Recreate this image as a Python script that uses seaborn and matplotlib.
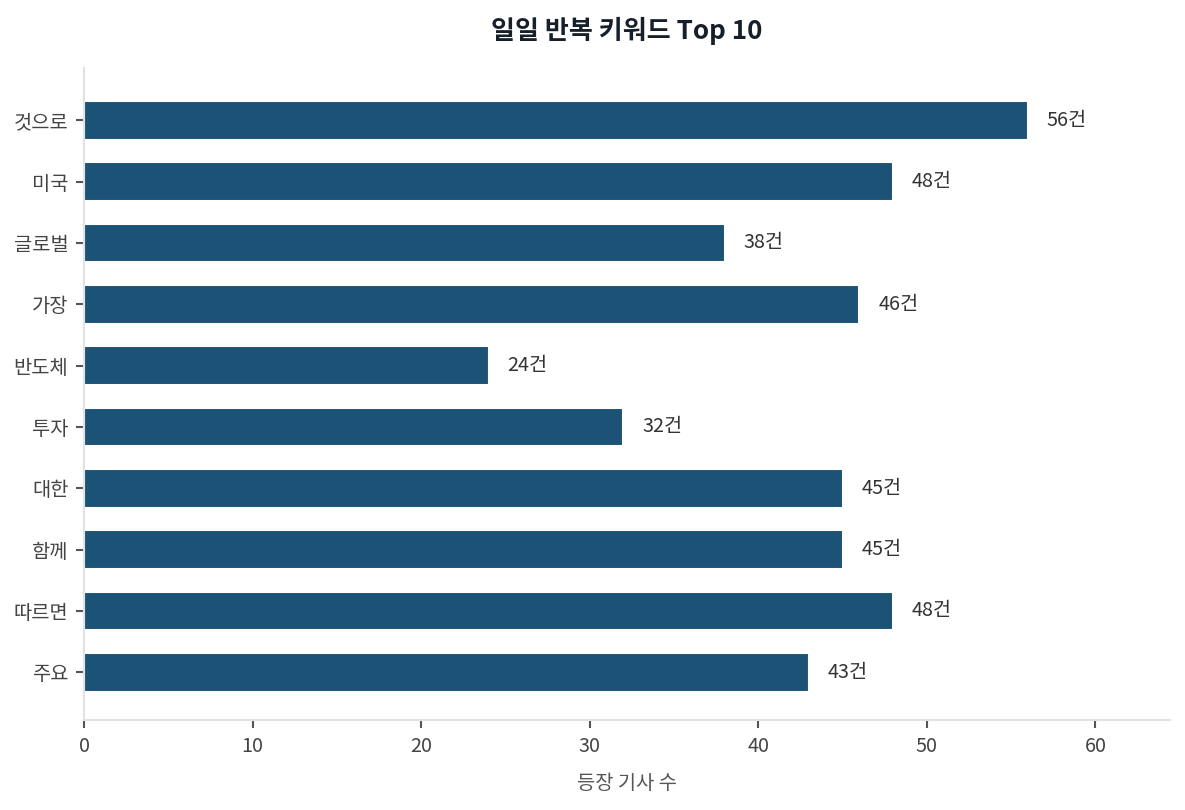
import pandas as pd
import matplotlib
matplotlib.use("Agg")
import matplotlib.pyplot as plt
import seaborn as sns

# Data
keywords = ["것으로", "미국", "글로벌", "가장", "반도체", "투자", "대한", "함께", "따르면", "주요"]
counts = [56, 48, 38, 46, 24, 32, 45, 45, 48, 43]

df = pd.DataFrame({"keyword": keywords, "count": counts})

sns.set_theme(style="white")
plt.rcParams["font.family"] = ["Noto Sans CJK KR", "DejaVu Sans"]

fig = plt.figure(figsize=(7.9, 5.4), dpi=150)
ax = fig.add_axes([0.0709, 0.111, 0.9161, 0.805])

sns.barplot(data=df, x="count", y="keyword", orient="h", color="#1b5276",
            saturation=1, width=0.63, ax=ax)

xmax = max(counts) * 1.15
ax.set_xlim(0, xmax)
ax.set_ylim(len(keywords) - 1 + 0.78, -0.85)

for i, v in enumerate(counts):
    ax.text(v + max(counts) * 0.02, i, f"{v}건", va="center", ha="left",
            fontsize=9.5, color="#333333")

ax.set_title("일일 반복 키워드 Top 10", fontsize=12.5, fontweight="bold",
             color="#17202a", pad=14)
ax.set_xlabel("등장 기사 수", fontsize=9.5, color="#555555", labelpad=8)
ax.set_ylabel("")

for side in ["top", "right"]:
    ax.spines[side].set_visible(False)
for side in ["left", "bottom"]:
    ax.spines[side].set_color("#dfe3e8")
    ax.spines[side].set_linewidth(1)

ax.tick_params(axis="both", colors="#555555", labelsize=9.5, length=4,
               width=1, left=True, bottom=True)
ax.tick_params(axis="both", labelcolor="#444444")

fig.savefig("out.png", dpi=150)
